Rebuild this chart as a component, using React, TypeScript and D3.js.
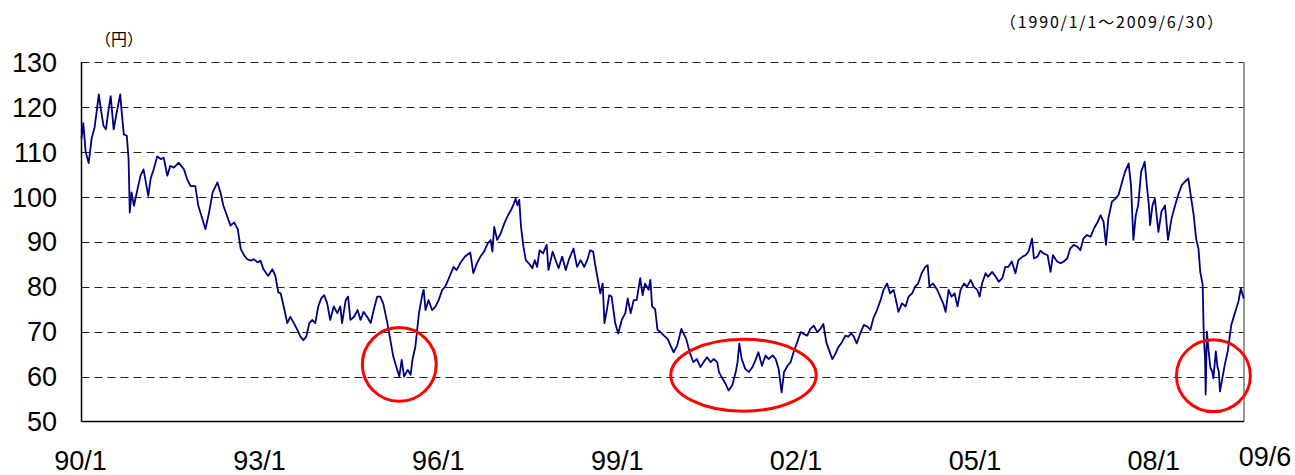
import React, { useEffect, useRef } from 'react';
import * as d3 from 'd3';

// [decimal year, yen]
const rate1990to1992: [number, number][] = [
  [1990.0, 113], [1990.03, 116.4], [1990.07, 110], [1990.12, 107.5], [1990.17, 113], [1990.22, 115.5],
  [1990.26, 119.5], [1990.29, 122.8], [1990.33, 119], [1990.37, 115.8], [1990.41, 115], [1990.45, 119],
  [1990.49, 122.4], [1990.54, 115], [1990.59, 118.7], [1990.65, 122.8], [1990.68, 118], [1990.71, 113.9],
  [1990.76, 113.6], [1990.79, 108.4], [1990.81, 96.5], [1990.84, 101], [1990.88, 98], [1990.94, 101.7],
  [1990.99, 104.7], [1991.04, 106.1], [1991.07, 104], [1991.12, 100.2], [1991.16, 104], [1991.21, 106.1],
  [1991.27, 109], [1991.33, 108.4], [1991.38, 108.7], [1991.44, 104.7], [1991.49, 106.9], [1991.55, 106.5],
  [1991.63, 107.6], [1991.72, 106.1], [1991.77, 104], [1991.83, 102.4], [1991.91, 102.4], [1991.96, 98],
  [1992.03, 95], [1992.08, 92.8], [1992.14, 96.5], [1992.2, 101], [1992.28, 103.2], [1992.33, 101],
  [1992.38, 98], [1992.44, 95.8], [1992.5, 93.6], [1992.56, 94.3], [1992.62, 92.8], [1992.67, 88.4],
  [1992.73, 86.9], [1992.78, 86.1], [1992.84, 85.8], [1992.89, 86.1], [1992.95, 85.4],
];

const rate1993to1995: [number, number][] = [
  [1993.0, 85.8], [1993.05, 83.9], [1993.13, 82.4], [1993.2, 83.9], [1993.25, 82.4], [1993.3, 78.7],
  [1993.34, 78.5], [1993.39, 75.6], [1993.45, 71.9], [1993.5, 73.3], [1993.56, 71.9], [1993.62, 70.4],
  [1993.67, 68.9], [1993.72, 68.1], [1993.77, 68.9], [1993.82, 71.9], [1993.87, 72.6], [1993.92, 71.9],
  [1993.97, 75.6], [1994.02, 77.4], [1994.07, 78.1], [1994.12, 76.3], [1994.17, 72.6], [1994.23, 75.6],
  [1994.29, 74.1], [1994.34, 75.6], [1994.37, 71.9], [1994.43, 77], [1994.47, 77.8], [1994.51, 72.6],
  [1994.57, 73.3], [1994.63, 74.8], [1994.68, 72.6], [1994.73, 74.4], [1994.79, 73.3], [1994.85, 71.9],
  [1994.9, 74.8], [1994.96, 77.8], [1995.01, 77.8], [1995.06, 76.3], [1995.13, 71.9], [1995.18, 68.1],
  [1995.23, 64.4], [1995.28, 62.2], [1995.33, 60], [1995.37, 63.7], [1995.41, 60], [1995.47, 61.5],
  [1995.52, 60.4], [1995.55, 63.7], [1995.6, 66.7], [1995.63, 70.4], [1995.66, 74.1], [1995.72, 78.5],
  [1995.74, 79.3], [1995.77, 74.8], [1995.82, 77], [1995.88, 74.8], [1995.94, 75.6], [1995.99, 77],
];

const rate1996to1998: [number, number][] = [
  [1996.05, 79.3], [1996.1, 80], [1996.15, 81.5], [1996.24, 84.4], [1996.29, 83.7], [1996.35, 85.2],
  [1996.43, 86.7], [1996.52, 87.6], [1996.57, 83], [1996.63, 85.2], [1996.69, 86.7], [1996.75, 87.8],
  [1996.81, 89.6], [1996.86, 90.4], [1996.89, 87.8], [1996.92, 93.3], [1996.97, 90.4], [1997.03, 91.9],
  [1997.09, 94.1], [1997.14, 95.6], [1997.2, 97], [1997.25, 98.5], [1997.28, 99.6], [1997.31, 98.1],
  [1997.34, 99.3], [1997.37, 93.3], [1997.41, 88.9], [1997.45, 85.9], [1997.5, 85.2], [1997.56, 84.1],
  [1997.6, 85.9], [1997.64, 84.4], [1997.68, 88.1], [1997.74, 87.4], [1997.8, 89.3], [1997.83, 83.7],
  [1997.9, 87.8], [1997.95, 85.9], [1998.0, 84.1], [1998.06, 86.7], [1998.12, 83.7], [1998.17, 85.9],
  [1998.25, 88.5], [1998.31, 84.4], [1998.37, 85.9], [1998.43, 84.4], [1998.48, 85.9], [1998.53, 88.1],
  [1998.58, 87.8], [1998.61, 85.2], [1998.66, 81.5], [1998.7, 78.5], [1998.74, 80.7], [1998.77, 71.9],
  [1998.81, 74.8], [1998.85, 78.1], [1998.89, 77.8], [1998.95, 71.9],
];

const rate1999to2001: [number, number][] = [
  [1999.0, 69.6], [1999.06, 72.6], [1999.12, 74.1], [1999.16, 77.4], [1999.21, 74.1], [1999.26, 77],
  [1999.31, 77], [1999.37, 81.9], [1999.41, 78.1], [1999.45, 80.7], [1999.51, 79.3], [1999.54, 81.5],
  [1999.57, 75.6], [1999.62, 75], [1999.66, 70.4], [1999.71, 69.9], [1999.77, 69.1], [1999.83, 68.4],
  [1999.88, 66.9], [1999.93, 65.4], [1999.99, 66.9], [2000.06, 70.6], [2000.1, 69.5], [2000.14, 68.4],
  [2000.2, 65.4], [2000.26, 63.2], [2000.32, 63.9], [2000.38, 62.1], [2000.43, 63.2], [2000.49, 64.3],
  [2000.55, 63.2], [2000.6, 63.9], [2000.66, 63.2], [2000.69, 61], [2000.75, 59.5], [2000.8, 58.4],
  [2000.85, 56.9], [2000.91, 58], [2000.97, 61], [2001.0, 63.2], [2001.03, 67.3], [2001.07, 63.9],
  [2001.13, 61.7], [2001.19, 61], [2001.25, 62.1], [2001.3, 63.6], [2001.35, 65.4], [2001.41, 62.4],
  [2001.47, 64.7], [2001.52, 63.9], [2001.59, 64.7], [2001.64, 63.9], [2001.69, 61.7], [2001.74, 56.5],
  [2001.78, 61], [2001.84, 62.4], [2001.89, 63.2], [2001.94, 65.4],
];

const rate2002to2004: [number, number][] = [
  [2002.0, 67.6], [2002.06, 69.9], [2002.11, 69.5], [2002.17, 69.1], [2002.22, 70.6], [2002.28, 71.3],
  [2002.34, 69.9], [2002.39, 70.6], [2002.44, 71.7], [2002.49, 67.6], [2002.53, 66.1], [2002.59, 63.9],
  [2002.64, 65], [2002.69, 66.5], [2002.75, 67.6], [2002.81, 69.1], [2002.86, 68.9], [2002.91, 69.6],
  [2002.95, 68.9], [2003.0, 67.4], [2003.06, 69.6], [2003.12, 71.5], [2003.18, 71.1], [2003.23, 70.4],
  [2003.28, 73], [2003.34, 74.8], [2003.4, 77], [2003.45, 79.3], [2003.51, 80.7], [2003.56, 78.5],
  [2003.62, 79.3], [2003.67, 76.3], [2003.7, 74.4], [2003.76, 76.3], [2003.82, 75.6], [2003.87, 77.8],
  [2003.93, 78.5], [2003.98, 80], [2004.03, 80.7], [2004.09, 83], [2004.15, 84.4], [2004.19, 84.8],
  [2004.22, 80], [2004.28, 80.7], [2004.35, 79.3], [2004.4, 77.8], [2004.45, 76.3], [2004.49, 74.4],
  [2004.54, 79.3], [2004.59, 77.8], [2004.64, 78.5], [2004.69, 75.6], [2004.74, 79.3], [2004.8, 80.7],
  [2004.85, 80], [2004.91, 81.5], [2004.96, 80],
];

const rate2005to2007: [number, number][] = [
  [2005.02, 79.3], [2005.06, 77.8], [2005.1, 80.7], [2005.16, 83], [2005.2, 82.2], [2005.27, 83.3],
  [2005.33, 82.2], [2005.38, 81.1], [2005.44, 81.9], [2005.49, 84.4], [2005.54, 84.4], [2005.6, 85.6],
  [2005.66, 83], [2005.71, 85.9], [2005.78, 86.7], [2005.83, 87], [2005.88, 87.8], [2005.94, 90.7],
  [2005.97, 86.3], [2006.03, 86.7], [2006.08, 88], [2006.13, 87.4], [2006.2, 87], [2006.25, 83.3],
  [2006.29, 87], [2006.36, 85.6], [2006.42, 85.2], [2006.47, 85.6], [2006.53, 86.3], [2006.58, 88.5],
  [2006.64, 89.3], [2006.7, 88.9], [2006.75, 88.1], [2006.8, 90.7], [2006.86, 91.5], [2006.92, 91.1],
  [2006.98, 93], [2007.04, 94.4], [2007.09, 95.9], [2007.14, 94.4], [2007.18, 89.3], [2007.22, 95.2],
  [2007.28, 98.9], [2007.34, 99.6], [2007.39, 100.4], [2007.45, 103.3], [2007.5, 105.6], [2007.56, 107.4],
  [2007.6, 102.6], [2007.64, 90.4], [2007.68, 95.9], [2007.72, 98.1], [2007.77, 105.6], [2007.81, 107],
  [2007.83, 107.8], [2007.87, 101.9], [2007.9, 98.1], [2007.92, 93.7], [2007.96, 98.1],
];

const rate2008to2009: [number, number][] = [
  [2008.0, 99.6], [2008.06, 92.2], [2008.11, 96.7], [2008.17, 98.1], [2008.22, 90.4], [2008.28, 95.2],
  [2008.34, 98.1], [2008.39, 100.4], [2008.45, 102.6], [2008.5, 103.3], [2008.56, 104.1], [2008.6, 100.4],
  [2008.65, 95.9], [2008.69, 90.7], [2008.73, 88.5], [2008.76, 83.3], [2008.8, 80.4], [2008.82, 68.5],
  [2008.84, 64.1], [2008.85, 56], [2008.87, 70], [2008.9, 65.6], [2008.93, 61.9], [2008.96, 61.1],
  [2008.98, 59.6], [2009.02, 65.6], [2009.05, 62], [2009.07, 61.1], [2009.09, 56.7], [2009.12, 58.9],
  [2009.17, 62.6], [2009.22, 65.6], [2009.28, 71.5], [2009.33, 73.7], [2009.4, 76.7], [2009.44, 79.6],
  [2009.49, 77.4],
];

const yTicks = [50, 60, 70, 80, 90, 100, 110, 120, 130];
const xTickDates = ['1990-01-01', '1993-01-01', '1996-01-01', '1999-01-01', '2002-01-01', '2005-01-01', '2008-01-01', '2009-06-30'];
const xTickLabels = ['90/1', '93/1', '96/1', '99/1', '02/1', '05/1', '08/1', '09/6'];

// highlighted lows: [center year, center yen] and [half width in years, half height in yen]
const circleCenters: [number, number][] = [[1995.33, 62.7], [2001.1, 60.3], [2008.98, 60.2]];
const circleRadii: [number, number][] = [[0.62, 8.2], [1.22, 8], [0.62, 8]];

const yearToDate = (y: number) => {
  const yr = Math.floor(y);
  const a = new Date(yr, 0, 1).getTime();
  const b = new Date(yr + 1, 0, 1).getTime();
  return new Date(a + (y - yr) * (b - a));
};

const App = () => {
  const svgRef = useRef<SVGSVGElement | null>(null);

  useEffect(() => {
    document.body.style.margin = '0';
    const svg = d3.select(svgRef.current);
    svg.selectAll('*').remove();

    const margin = { top: 62, right: 51, bottom: 53.5, left: 81.5 };
    const W = 1295, H = 475;
    const width = W - margin.left - margin.right;
    const height = H - margin.top - margin.bottom;

    const g = svg.append('g').attr('transform', `translate(${margin.left},${margin.top})`);

    const x = d3.scaleTime()
      .domain([new Date(1990, 0, 1), new Date(2009, 5, 30)])
      .range([0, width]);
    const y = d3.scaleLinear().domain([50, 130]).range([height, 0]);

    const data = [
      ...rate1990to1992, ...rate1993to1995, ...rate1996to1998, ...rate1999to2001,
      ...rate2002to2004, ...rate2005to2007, ...rate2008to2009,
    ];

    // dashed grid
    g.append('g')
      .selectAll('line')
      .data(yTicks.filter(d => d > 50))
      .enter()
      .append('line')
      .attr('x1', 0)
      .attr('x2', width)
      .attr('y1', d => Math.round(y(d)) + 0.5)
      .attr('y2', d => Math.round(y(d)) + 0.5)
      .attr('stroke', '#222')
      .attr('stroke-width', 1)
      .attr('stroke-dasharray', '8,5');

    // frame
    g.append('line').attr('x1', width).attr('x2', width).attr('y1', 0).attr('y2', height)
      .attr('stroke', '#777').attr('stroke-width', 1.5);
    g.append('line').attr('x1', 0).attr('x2', 0).attr('y1', 0).attr('y2', height)
      .attr('stroke', '#000').attr('stroke-width', 1.5);
    g.append('line').attr('x1', 0).attr('x2', width).attr('y1', height).attr('y2', height)
      .attr('stroke', '#000').attr('stroke-width', 1.5);

    // series
    const line = d3.line<[number, number]>()
      .x(d => x(yearToDate(d[0])))
      .y(d => y(d[1]));

    g.append('path')
      .datum(data)
      .attr('fill', 'none')
      .attr('stroke', '#000080')
      .attr('stroke-width', 1.8)
      .attr('stroke-linejoin', 'round')
      .attr('d', line);

    // red circles
    g.append('g')
      .selectAll('ellipse')
      .data(circleCenters)
      .enter()
      .append('ellipse')
      .attr('cx', d => x(yearToDate(d[0])))
      .attr('cy', d => y(d[1]))
      .attr('rx', (d, i) => x(yearToDate(d[0] + circleRadii[i][0])) - x(yearToDate(d[0])))
      .attr('ry', (d, i) => y(d[1] - circleRadii[i][1]) - y(d[1]))
      .attr('fill', 'none')
      .attr('stroke', '#ff0000')
      .attr('stroke-width', 3);

    // y tick labels
    g.append('g')
      .selectAll('text')
      .data(yTicks)
      .enter()
      .append('text')
      .attr('x', -24.5)
      .attr('y', d => y(d))
      .attr('dy', '0.36em')
      .attr('text-anchor', 'end')
      .attr('font-family', '"Liberation Sans", Arial, sans-serif')
      .attr('font-size', '27px')
      .attr('fill', '#000')
      .text(d => d);

    // x tick labels
    g.append('g')
      .selectAll('text')
      .data(xTickDates)
      .enter()
      .append('text')
      .attr('x', (d, i) => x(new Date(d)) + (i === xTickDates.length - 1 ? 21 : -1))
      .attr('y', (d, i) => height + (i === xTickDates.length - 1 ? 44 : 48.5))
      .attr('text-anchor', 'middle')
      .attr('font-family', '"Liberation Sans", Arial, sans-serif')
      .attr('font-size', '27px')
      .attr('fill', '#000')
      .text((d, i) => xTickLabels[i]);

    // unit and period
    svg.append('text')
      .attr('x', 95)
      .attr('y', 45)
      .attr('font-family', '"Noto Sans CJK JP", sans-serif')
      .attr('font-size', '16px')
      .attr('fill', '#000')
      .text('（円）');

    svg.append('text')
      .attr('x', 1000)
      .attr('y', 28)
      .attr('font-family', '"Noto Sans CJK JP", sans-serif')
      .attr('font-size', '16px')
      .attr('textLength', 223)
      .attr('lengthAdjust', 'spacing')
      .attr('fill', '#000')
      .text('（1990/1/1～2009/6/30）');
  }, []);

  return (
    <svg
      ref={svgRef}
      width={1295}
      height={475}
      style={{ position: 'absolute', left: 0, top: 0, background: '#fff' }}
    />
  );
};

export default App;
